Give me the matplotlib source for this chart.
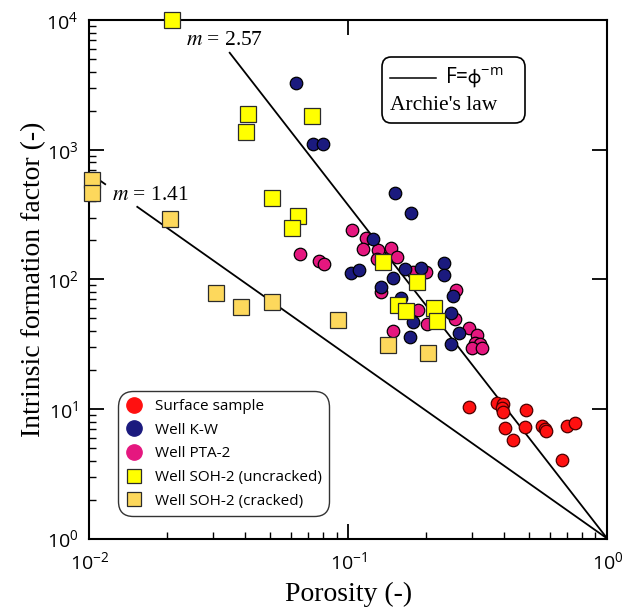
import matplotlib
matplotlib.use("Agg")
import numpy as np
import matplotlib.pyplot as plt
from matplotlib import ticker
from matplotlib.lines import Line2D
from matplotlib.offsetbox import (AnchoredOffsetbox, DrawingArea, TextArea,
                                  HPacker, VPacker)

plt.rcParams["mathtext.default"] = "regular"

# ---- data: porosity (-) and intrinsic formation factor (-) ----
surface_phi = [0.291, 0.374, 0.397, 0.392, 0.397, 0.486, 0.403, 0.434,
               0.482, 0.559, 0.576, 0.581, 0.698, 0.752, 0.668]
surface_F = [10.4, 11.1, 10.9, 10.1, 9.4, 9.8, 7.1, 5.8,
             7.2, 7.4, 7.0, 6.8, 7.4, 7.8, 4.06]

kw_phi = [0.063, 0.0731, 0.0795, 0.151, 0.175, 0.125, 0.102, 0.110,
          0.166, 0.190, 0.149, 0.134, 0.234, 0.234, 0.253, 0.160,
          0.249, 0.178, 0.268, 0.173, 0.249]
kw_F = [3245, 1111, 1111, 467, 326, 205, 112, 118,
        120, 122, 102, 88, 133, 108, 74, 72,
        55, 46.6, 38.6, 36, 31.8]

pta_phi = [0.0649, 0.0771, 0.0804, 0.103, 0.117, 0.114, 0.130, 0.146,
           0.154, 0.129, 0.134, 0.199, 0.178, 0.261, 0.185, 0.202,
           0.258, 0.149, 0.293, 0.313, 0.307, 0.323, 0.299, 0.328]
pta_F = [157, 139, 131.5, 240, 207, 171, 168, 175,
         148, 144, 80, 114, 114, 83, 58.3, 45.5,
         49.8, 40.2, 42.2, 37.5, 32.3, 32, 29.3, 29.6]

soh_unc_phi = [0.0209, 0.0408, 0.0404, 0.0721, 0.0505, 0.064, 0.0608,
               0.1355, 0.184, 0.156, 0.167, 0.215, 0.2195]
soh_unc_F = [10000, 1897, 1381, 1811, 428, 307, 247,
             136, 95, 63, 57.3, 60, 47.4]

soh_cr_phi = [0.0102, 0.0102, 0.0204, 0.0307, 0.0386, 0.0505, 0.0908,
              0.1426, 0.2037]
soh_cr_F = [588, 467, 290, 78, 61.2, 66.4, 48.9, 31, 27.1]

# Archie's law exponents and the porosity range each fitted line covers
m_values = [2.57, 1.41]
line_segments = [[(0.0348, 1.0)],
                 [(0.0100, 0.0115), (0.0153, 1.0)]]

x_ticks = [0.01, 0.1, 1]
y_ticks = [1, 10, 100, 1000, 10000]

# ---- colours ----
c_surface = "#ff1010"
c_kw = "#1b1a7e"
c_pta = "#e5177f"
c_unc = "#ffff00"
c_cr = "#fdd85c"
c_edge = "#2b2b2b"

fig = plt.figure(figsize=(6.3, 6.1), dpi=100)
ax = fig.add_axes([0.142, 0.117, 0.822, 0.850])
ax.set_xscale("log")
ax.set_yscale("log")
ax.set_xlim(0.01, 1)
ax.set_ylim(1, 10000)

# fitted Archie lines
for m, segs in zip(m_values, line_segments):
    for lo, hi in segs:
        phi = np.logspace(np.log10(lo), np.log10(hi), 60)
        ax.plot(phi, phi ** (-m), color="black", lw=1.3, zorder=2)

ms_c = 9.0
ms_s = 11.5
mew = 0.9
ax.plot(pta_phi, pta_F, "o", ms=ms_c, mfc=c_pta, mec="black", mew=mew, zorder=3)
ax.plot(kw_phi, kw_F, "o", ms=ms_c, mfc=c_kw, mec="black", mew=mew, zorder=4)
ax.plot(surface_phi, surface_F, "o", ms=ms_c, mfc=c_surface, mec="#4a0000",
        mew=mew, zorder=4)
ax.plot(soh_cr_phi, soh_cr_F, "s", ms=ms_s, mfc=c_cr, mec=c_edge, mew=mew,
        zorder=5, clip_on=False)
ax.plot(soh_unc_phi, soh_unc_F, "s", ms=ms_s, mfc=c_unc, mec=c_edge, mew=mew,
        zorder=6, clip_on=False)

# exponent labels
serif = "Liberation Serif"
ax.text(0.0236, 7000, r"$\mathit{m}$ = 2.57", fontsize=15.5, family=serif,
        math_fontfamily="stix", ha="left", va="center", zorder=7)
ax.text(0.0122, 440, r"$\mathit{m}$ = 1.41", fontsize=15.5, family=serif,
        math_fontfamily="stix", ha="left", va="center", zorder=7)

# axes styling
for sp in ax.spines.values():
    sp.set_linewidth(1.5)
ax.xaxis.set_major_locator(ticker.FixedLocator(x_ticks))
ax.yaxis.set_major_locator(ticker.FixedLocator(y_ticks))
ax.xaxis.set_major_formatter(ticker.LogFormatterSciNotation())
ax.yaxis.set_major_formatter(ticker.LogFormatterSciNotation())
ax.xaxis.set_minor_locator(ticker.LogLocator(base=10, subs=np.arange(2, 10)))
ax.yaxis.set_minor_locator(ticker.LogLocator(base=10, subs=np.arange(2, 10)))
ax.xaxis.set_minor_formatter(ticker.NullFormatter())
ax.yaxis.set_minor_formatter(ticker.NullFormatter())
ax.tick_params(which="major", direction="in", length=11, width=1.3,
               top=True, right=True, labelsize=14, labelfontfamily="Open Sans")
ax.tick_params(axis="x", which="major", pad=9)
ax.tick_params(axis="y", which="major", pad=8)
ax.tick_params(which="minor", direction="in", length=5, width=1.0,
               top=False, right=False)

ax.set_xlabel("Porosity (-)", fontsize=20, family=serif, labelpad=6)
ax.set_ylabel("Intrinsic formation factor (-)", fontsize=20, family=serif,
              labelpad=0)

# legend of sample groups
handles = [
    Line2D([], [], ls="none", marker="o", ms=11, mfc=c_surface, mec=c_surface),
    Line2D([], [], ls="none", marker="o", ms=11, mfc=c_kw, mec=c_kw),
    Line2D([], [], ls="none", marker="o", ms=11, mfc=c_pta, mec=c_pta),
    Line2D([], [], ls="none", marker="s", ms=10.5, mfc=c_unc, mec=c_edge, mew=0.9),
    Line2D([], [], ls="none", marker="s", ms=10.5, mfc=c_cr, mec=c_edge, mew=0.9),
]
labels = ["Surface sample", "Well K-W", "Well PTA-2",
          "Well SOH-2 (uncracked)", "Well SOH-2 (cracked)"]
leg = ax.legend(handles, labels, loc="lower left",
                bbox_to_anchor=(0.055, 0.043), frameon=True, fancybox=True,
                prop={"family": "Open Sans", "size": 11}, labelspacing=0.57,
                handlelength=1.1, handletextpad=0.8, borderpad=0.5,
                borderaxespad=0)
frame = leg.get_frame()
frame.set_edgecolor("black")
frame.set_linewidth(1.0)
frame.set_boxstyle("round,pad=0,rounding_size=1.0")
leg.set_zorder(8)

# Archie's law key
da = DrawingArea(33, 12, 0, 0)
da.add_artist(Line2D([0, 33], [6, 6], color="black", lw=1.1))
t_eq = TextArea(r"F=$\phi^{-m}$",
                textprops=dict(fontsize=15, family="Open Sans",
                               math_fontfamily="dejavusans"))
row1 = HPacker(children=[da, t_eq], align="center", pad=0, sep=7)
t_law = TextArea("Archie's law", textprops=dict(fontsize=15.5, family=serif))
box = VPacker(children=[row1, t_law], align="left", pad=0, sep=4)
boxed = HPacker(children=[box, DrawingArea(9, 1, 0, 0)], align="center",
                pad=0, sep=0)
key = AnchoredOffsetbox(loc="upper left", child=boxed, pad=0.6, borderpad=0,
                        frameon=True, bbox_to_anchor=(0.564, 0.929),
                        bbox_transform=ax.transAxes)
key.patch.set_boxstyle("round,pad=0,rounding_size=0.7")
key.patch.set_edgecolor("black")
key.patch.set_linewidth(1.2)
key.set_zorder(8)
ax.add_artist(key)

fig.savefig("out.png", dpi=100)
